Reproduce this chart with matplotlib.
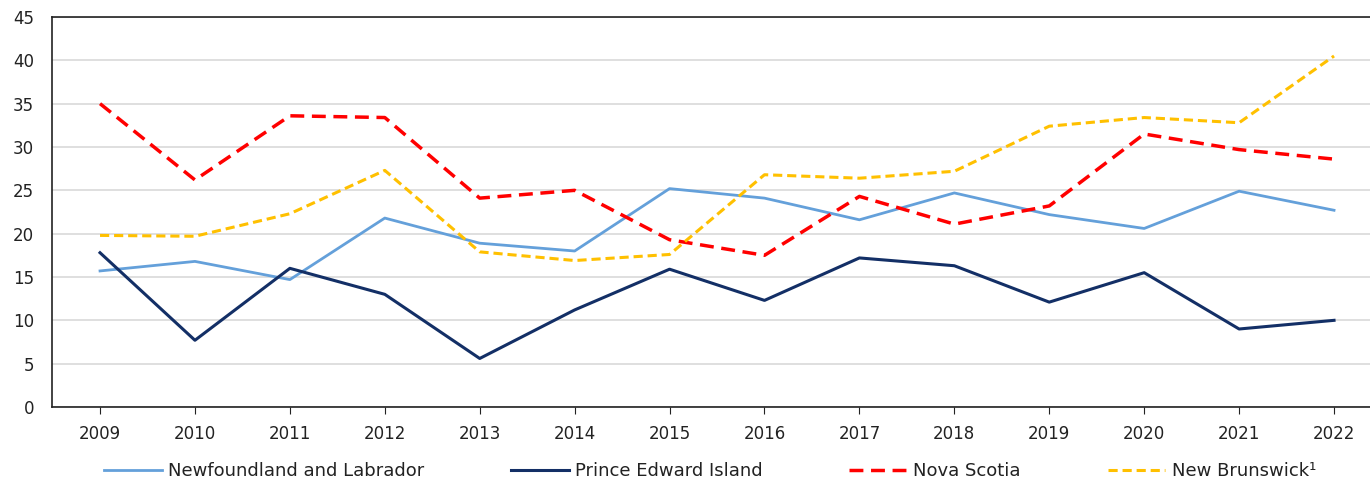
import matplotlib.pyplot as plt

years = list(range(2009, 2023))
newfoundland = [15.7, 16.8, 14.7, 21.8, 18.9, 18.0, 25.2, 24.1, 21.6, 24.7, 22.2, 20.6, 24.9, 22.7]
pei = [17.8, 7.7, 16.0, 13.0, 5.6, 11.2, 15.9, 12.3, 17.2, 16.3, 12.1, 15.5, 9.0, 10.0]
nova_scotia = [35.0, 26.2, 33.6, 33.4, 24.1, 25.0, 19.3, 17.5, 24.3, 21.1, 23.2, 31.5, 29.7, 28.6]
new_brunswick = [19.8, 19.7, 22.3, 27.3, 17.9, 16.9, 17.6, 26.8, 26.4, 27.2, 32.4, 33.4, 32.8, 40.5]
labels = ['Newfoundland and Labrador', 'Prince Edward Island', 'Nova Scotia', 'New Brunswick¹']

plt.rcParams['font.family'] = ['DejaVu Sans']

fig = plt.figure(figsize=(13.7, 4.8), dpi=100)
ax = fig.add_axes([52 / 1370, (480 - 407) / 480, (1372 - 52) / 1370, 390 / 480])

ax.plot(years, newfoundland, color='#64A0DA', lw=2.0, label=labels[0])
ax.plot(years, pei, color='#132F66', lw=2.2, label=labels[1])
ax.plot(years, nova_scotia, color='#FF0000', lw=2.5, dashes=(4, 2.2), label=labels[2])
ax.plot(years, new_brunswick, color='#FFC000', lw=2.2, dashes=(3, 1.6), label=labels[3])

ax.set_ylim(0, 45)
ax.set_yticks(range(0, 50, 5))
ax.set_xlim(2008.494, 2022.40)
ax.set_xticks(years)
ax.grid(axis='y', color='#D9D9D9', lw=1.2)
ax.set_axisbelow(True)
for s in ['left', 'top', 'bottom', 'right']:
    ax.spines[s].set_color('#222222')
    ax.spines[s].set_linewidth(1.2)
ax.tick_params(axis='y', length=0, pad=13, labelsize=12, colors='#222222')
ax.tick_params(axis='x', length=5, pad=8, labelsize=12, colors='#222222', direction='out')

leg = fig.legend(loc='center', ncol=4, frameon=False, fontsize=13,
                 handlelength=3.2, handletextpad=0.35, columnspacing=4.8)
leg.set_bbox_to_anchor((710 / 1370, 1 - 471 / 480), transform=fig.transFigure)
for t in leg.get_texts():
    t.set_color('#222222')

fig.savefig('out.png', dpi=100)
